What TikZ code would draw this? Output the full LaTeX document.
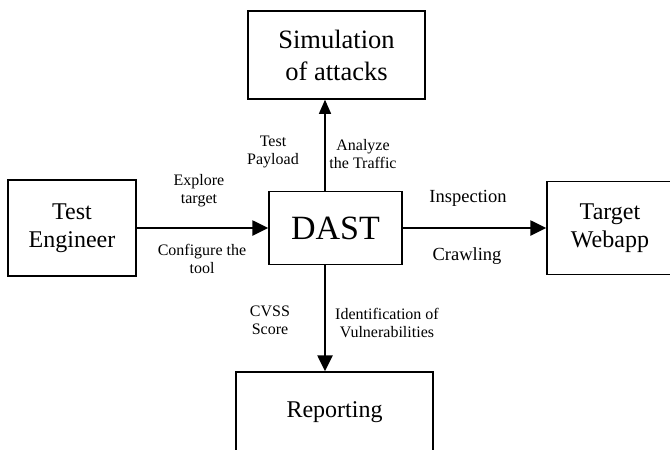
\documentclass[tikz,border=0pt]{standalone}
\usepackage{fontspec}
\setmainfont{Liberation Serif}
\usetikzlibrary{arrows.meta}
\begin{document}
\begin{tikzpicture}[x=1pt,y=-1pt,
  box/.style={draw,line width=1.5pt,inner sep=0pt,align=center},
  lbl/.style={align=center,inner sep=0pt,font=\fontsize{16}{18}\selectfont},
  biglbl/.style={align=center,inner sep=0pt,font=\fontsize{18.5}{21}\selectfont},
  thickarrow/.style={line width=2.6pt,-{Triangle[length=16pt,width=15pt]}},
  thinarrow/.style={line width=1.2pt,-{Triangle[length=14pt,width=12pt]}}]
\useasboundingbox (0,0) rectangle (670,450);
\clip (0,0) rectangle (670,450);
\node[box,minimum width=128pt,minimum height=96pt,font=\fontsize{24}{28}\selectfont] (te) at (72,228) {Test\\Engineer};
\node[box,minimum width=133pt,minimum height=73pt,font=\fontsize{34}{40}\selectfont] (dast) at (335.5,228) {DAST};
\node[box,minimum width=177pt,minimum height=88pt,font=\fontsize{26.5}{32}\selectfont] (sim) at (336.5,55) {Simulation\\of attacks};
\node[box,minimum width=126pt,minimum height=93pt,font=\fontsize{24}{28}\selectfont] (tw) at (610,228) {Target\\Webapp};
\node[box,minimum width=197pt,minimum height=80pt,font=\fontsize{24}{28}\selectfont] (rep) at (334.5,412) {Reporting};
\coordinate (ax) at (325,0);
\draw[thickarrow] (te.east) -- (dast.west);
\draw[thickarrow] (dast.east) -- (tw.west);
\draw[thickarrow] (dast.south -| ax) -- (rep.north -| ax);
\draw[thinarrow] (dast.north -| ax) -- (sim.south -| ax);
\node[lbl] (l1) at (273,152) {Test\\Payload};
\node[lbl] (l2) at (363,154) {Analyze\\the Traffic};
\node[lbl] (l3) at (199,191) {Explore\\target};
\node[lbl] (l4) at (202,259) {Configure the\\tool};
\node[biglbl] (l5) at (468,198) {Inspection};
\node[biglbl] (l6) at (467,256) {Crawling};
\node[lbl] (l7) at (270,320) {CVSS\\Score};
\node[lbl] (l8) at (387,323) {Identification of\\Vulnerabilities};
\end{tikzpicture}
\end{document}
